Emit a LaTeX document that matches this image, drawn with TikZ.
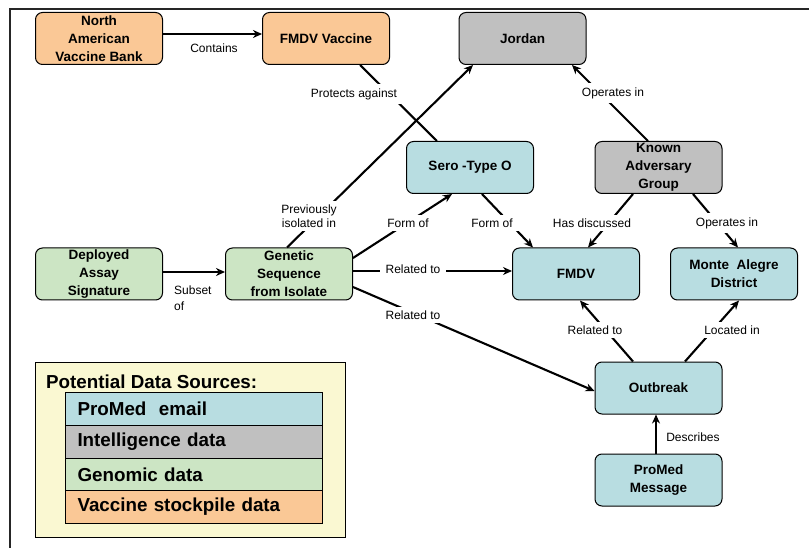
\documentclass[tikz,border=0pt]{standalone}
\usepackage{fontspec}
\setmainfont{Liberation Sans}
\usetikzlibrary{arrows.meta}
\definecolor{orng}{HTML}{FAC896}
\definecolor{gry}{HTML}{C0C0C0}
\definecolor{blu}{HTML}{B8DDE1}
\definecolor{grn}{HTML}{CCE5C4}
\definecolor{ylw}{HTML}{FAF8D2}
\begin{document}
\begin{tikzpicture}[x=1pt,y=-1pt,
  box/.style={draw=black, line width=1pt, rounded corners=7pt, minimum width=127pt, minimum height=52pt,
    align=center, font=\fontsize{13.5}{18}\selectfont\bfseries, inner sep=1pt},
  lbl/.style={fill=white, font=\fontsize{12}{14}\selectfont, inner xsep=6pt, inner ysep=4pt, align=center},
  conn/.style={line width=2.1pt, -{Stealth[length=9pt,width=8pt]}},
  plainconn/.style={line width=2.1pt},
  legrow/.style={draw=black, line width=1pt, anchor=north west, text width=233pt, inner xsep=12pt,
    minimum height=32.75pt, align=left, font=\fontsize{18.8}{20}\selectfont\bfseries},
]
\useasboundingbox (0,0) rectangle (809,548);
% frame
\draw[line width=2pt, draw=black!85] (10,548) -- (10,9) -- (809,9);

% nodes
\node[box, fill=orng] (navb) at (99,38.5) {North\\American\\Vaccine Bank};
\node[box, fill=orng] (vac) at (326,38.5) {FMDV Vaccine};
\node[box, fill=gry] (jor) at (522.5,38.5) {Jordan};
\node[box, fill=blu] (sero) at (470,167.5) {Sero -Type O};
\node[box, fill=gry] (kag) at (658.5,167.5) {\raisebox{-1.5pt}{\parbox{120pt}{\centering Known\\Adversary\\Group}}};
\node[box, fill=grn] (das) at (99,274) {Deployed\\Assay\\Signature};
\node[box, fill=grn] (gen) at (289,274) {Genetic\\Sequence\\from Isolate};
\node[box, fill=blu] (fmdv) at (576,274) {FMDV};
\node[box, fill=blu] (mad) at (734,274) {Monte\ \ Alegre\\District};
\node[box, fill=blu] (out) at (658.5,388) {Outbreak};
\node[box, fill=blu] (pro) at (658.5,480) {ProMed\\Message};

% connectors
\draw[conn] ([yshift=4.5pt]navb.east) -- ([yshift=4.5pt]vac.west);
\draw[plainconn] ([xshift=34pt]vac.south) -- ([xshift=-33pt]sero.north);
\draw[conn] ([xshift=-2pt]gen.north) -- ([xshift=-49.5pt]jor.south);
\draw[conn] ([xshift=-10.5pt]kag.north) -- ([xshift=49.5pt]jor.south);
\draw[conn] ([yshift=16pt]gen.east) -- ([xshift=-18pt]sero.south);
\draw[conn] ([xshift=12pt]sero.south) -- ([xshift=-43pt]fmdv.north);
\draw[conn] ([xshift=-25.5pt]kag.south) -- ([xshift=12pt]fmdv.north);
\draw[conn] ([xshift=34.5pt]kag.south) -- ([xshift=4pt]mad.north);
\draw[conn] ([yshift=3pt]gen.east) -- ([yshift=3pt]fmdv.west);
\draw[conn] ([yshift=2pt]das.east) -- ([yshift=2pt]gen.west);
\draw[conn] ([yshift=-13pt]gen.east) -- ([yshift=-3pt]out.west);
\draw[conn] ([xshift=-25.5pt]out.north) -- ([xshift=4pt]fmdv.south);
\draw[conn] ([xshift=26.5pt]out.north) -- ([xshift=5pt]mad.south);
\draw[conn] ([xshift=-2.5pt]pro.north) -- ([xshift=-2.5pt]out.south);

% labels
\node[lbl] (lcont) at (214,48) {Contains};
\node[lbl] (lprot) at (354,94) {Protects against};
\node[lbl] (lop1) at (613,93) {Operates in};
\node[lbl] (lprev) at (309,216) {Previously\\isolated in};
\node[lbl] (lform1) at (408,223) {Form of};
\node[lbl] (lform2) at (492,223) {Form of};
\node[lbl] (lhas) at (592,223) {Has discussed};
\node[lbl] (lop2) at (727,223) {Operates in};
\node[lbl] (lrel1) at (413,269) {Related to};
\node[lbl] (lrel2) at (413,315) {Related to};
\node[lbl] (lrel3) at (595,330) {Related to};
\node[lbl] (lloc) at (732,330) {Located in};
\node[lbl] (ldesc) at (693,437) {Describes};
\node[lbl, anchor=north west, inner xsep=3pt, align=left, font=\fontsize{12}{15.5}\selectfont] (lsub) at (171,282) {Subset\\of};

% legend
\draw[line width=1pt, fill=ylw] (35,362) rectangle (345,537);
\node[anchor=west, inner sep=2pt, font=\fontsize{18.8}{20}\selectfont\bfseries] (legtitle) at (44,382) {Potential Data Sources:};
\node[legrow, fill=blu] (r1) at (65,392) {ProMed\ \ email};
\node[legrow, fill=gry] (r2) at (65,424.75) {Intelligence data};
\node[legrow, fill=grn] (r3) at (65,457.5) {Genomic data};
\node[legrow, fill=orng] (r4) at (65,490.25) {Vaccine stockpile data};
\end{tikzpicture}
\end{document}
